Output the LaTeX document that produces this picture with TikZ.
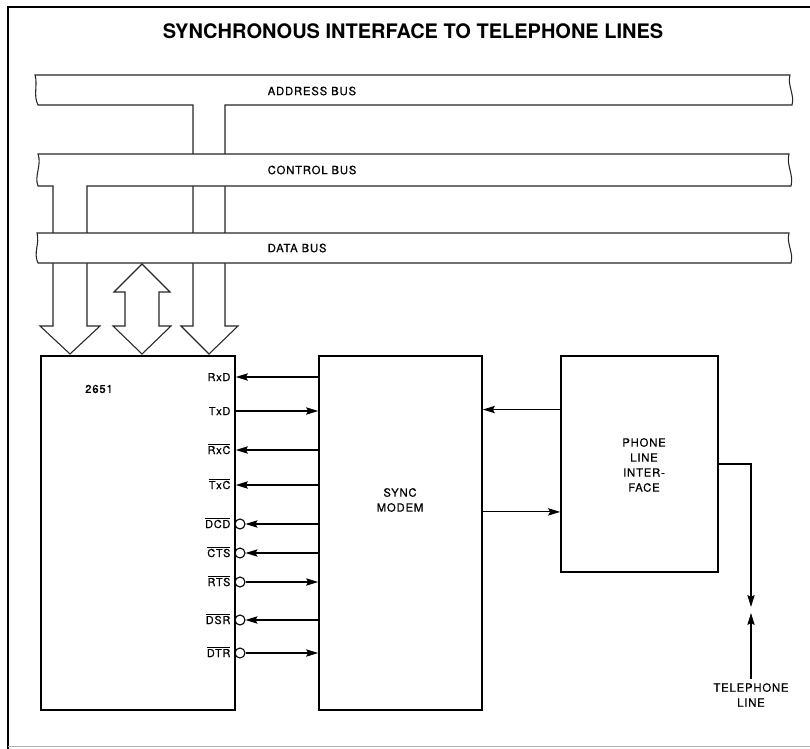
\documentclass[tikz,border=0pt]{standalone}
\usepackage{fontspec}
\setmainfont{TeX Gyre Heros}
\newfontfamily\lblfont{TeX Gyre Heros}[FakeBold=0.5, LetterSpace=7]
\usepackage{tikz}
\usetikzlibrary{arrows.meta}
\usetikzlibrary{fit, calc}
\newcommand{\ovl}[1]{$\overline{\mbox{#1}}$}

\begin{document}
\begin{tikzpicture}[x=0.75pt, y=-0.75pt,
  box/.style={draw, line width=1.3pt, inner sep=0pt},
  bus/.style={draw=black!85, fill=white, line width=0.8pt},
  sig/.style={line width=0.8pt, -{Stealth[length=9pt, width=5.5pt, inset=1.5pt]}},
  bub/.style={circle, draw, line width=0.8pt, minimum size=7.5pt, inner sep=0pt},
  pin/.style={anchor=east, inner sep=1pt, text height=7pt, text depth=1pt, font=\lblfont\fontsize{8.2}{10}\selectfont},
  txt/.style={align=center, font=\lblfont\fontsize{8.5}{11.25}\selectfont}]
\useasboundingbox (0,0) rectangle (810,749);
\draw[line width=0.8pt] (810,7) -- (8,7) -- (8,749);
\draw[black!30, line width=0.4pt] (8,746) -- (810,746);

\node[font=\bfseries\fontsize{15}{17}\selectfont] (title) at (413,31) {SYNCHRONOUS INTERFACE TO TELEPHONE LINES};

% buses, each with its branch down to the 2651
\draw[bus] (35,75) -- (790,75) .. controls (787,85) and (795,95) .. (792,105) -- (225,105) -- (225,326) -- (238,326) -- (209,354)
  -- (181,326) -- (193,326) -- (193,105) -- (38,105) .. controls (33,95) and (38,85) .. (35,75) -- cycle;
\draw[bus] (38,154) -- (789,154) .. controls (786,165) and (794,175) .. (791,186) -- (87,186) -- (87,326) -- (100,326) -- (70,354)
  -- (40,326) -- (53,326) -- (53,186) -- (38,186) .. controls (34,176) and (42,165) .. (38,154) -- cycle;
\draw[bus] (37,233) -- (789,233) .. controls (786,243) and (794,253) .. (791,263) -- (38,263) .. controls (33,253) and (40,243) .. (37,233) -- cycle;
\draw[bus] (142,264) -- (170,292) -- (159,292) -- (159,326) -- (171,326) -- (142,354) -- (113,326) -- (125,326) -- (125,292) -- (114,292) -- cycle;

\node[anchor=west, txt] (abus) at (263,91) {ADDRESS BUS};
\node[anchor=west, txt] (cbus) at (263,170) {CONTROL BUS};
\node[anchor=west, txt] (dbus) at (263,248) {DATA BUS};

% blocks
\node[box, fit={(41,356) (235,710)}] (chip) {};
\node[box, fit={(319,356) (482,710)}] (modem) {};
\node[box, fit={(561,356) (718,572)}] (phone) {};
\node[txt] (chipname) at (99,389) {2651};
\node[txt] (modemname) at (400,500) {SYNC\\MODEM};
\node[txt] (phonename) at (644,465) {PHONE\\LINE\\INTER-\\FACE};

% 2651 <-> modem
\foreach \y/\nm/\txt/\out/\inv in {377/rxd/RxD/0/0, 411/txd/TxD/1/0, 450/rxc/\ovl{RxC}/0/0, 485/txc/\ovl{TxC}/0/0,
    524/dcd/\ovl{DCD}/0/1, 553/cts/\ovl{CTS}/0/1, 582/rts/\ovl{RTS}/1/1, 620/dsr/\ovl{DSR}/0/1, 653/dtr/\ovl{DTR}/1/1} {
  \node[pin] (l\nm) at (232,\y) {\txt};
  \ifnum\inv=1
    \node[bub] (b\nm) at (240,\y) {};
    \coordinate (p\nm) at (b\nm.east);
  \else
    \coordinate (p\nm) at (chip.east |- l\nm);
  \fi
  \ifnum\out=1
    \draw[sig] (p\nm) -- (modem.west |- l\nm);
  \else
    \draw[sig] (modem.west |- l\nm) -- (p\nm);
  \fi
}

% modem <-> phone line interface
\coordinate (prx) at ($(phone.north west)!0.25!(phone.south west)$);
\coordinate (ptx) at ($(phone.north west)!0.72!(phone.south west)$);
\draw[sig] (prx) -- (prx -| modem.east);
\draw[sig] (ptx -| modem.east) -- (ptx);

% telephone line
\node[txt] (telline) at (751,695) {TELEPHONE\\LINE};
\coordinate (jacktop) at (751,607);
\coordinate (jackbot) at (751,613);
\draw[sig] (phone.east) -| (jacktop);
\draw[sig] (telline.north) -- (jackbot);
\end{tikzpicture}
\end{document}
